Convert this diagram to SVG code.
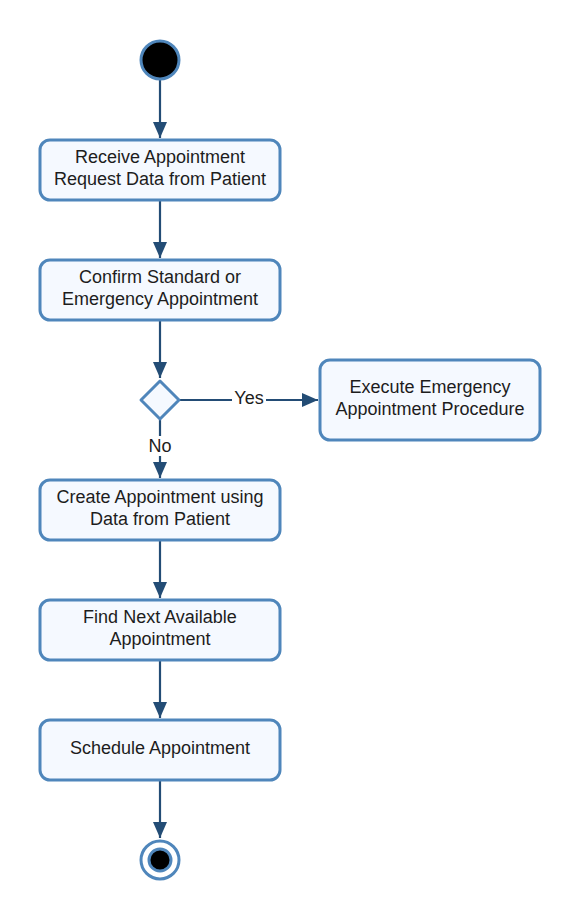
<svg xmlns="http://www.w3.org/2000/svg" width="580" height="920" viewBox="0 0 580 920">
<defs>
<style>
.node{fill:#f5f9ff;stroke:#4f86bb;stroke-width:3}
.t{font-family:"Liberation Sans",Arial,sans-serif;font-size:18px;fill:#1d1d1d;text-anchor:middle}
.c{fill:none;stroke:#234c75;stroke-width:2.2}
</style>
<marker id="ah" viewBox="0 0 16 14" refX="16" refY="7" markerWidth="16" markerHeight="14" markerUnits="userSpaceOnUse" orient="auto">
<path d="M0,0 L16,7 L0,14 Z" fill="#234c75"/>
</marker>
</defs>
<rect width="580" height="920" fill="#ffffff"/>
<g id="connectors">
<line class="c" x1="160" y1="80" x2="160" y2="138" marker-end="url(#ah)"/>
<line class="c" x1="160" y1="200" x2="160" y2="258" marker-end="url(#ah)"/>
<line class="c" x1="160" y1="320" x2="160" y2="378" marker-end="url(#ah)"/>
<line class="c" x1="180" y1="400" x2="318" y2="400" marker-end="url(#ah)"/>
<line class="c" x1="160" y1="420" x2="160" y2="478" marker-end="url(#ah)"/>
<line class="c" x1="160" y1="540" x2="160" y2="598" marker-end="url(#ah)"/>
<line class="c" x1="160" y1="660" x2="160" y2="718" marker-end="url(#ah)"/>
<line class="c" x1="160" y1="780" x2="160" y2="838" marker-end="url(#ah)"/>
<rect x="232" y="388" width="34" height="20" fill="#ffffff"/>
<text class="t" x="249" y="404">Yes</text>
<rect x="145" y="436" width="30" height="20" fill="#ffffff"/>
<text class="t" x="160" y="452">No</text>
</g>
<g id="start">
<circle cx="160" cy="60" r="19" fill="#000000" stroke="#4f86bb" stroke-width="3"/>
</g>
<g id="receive">
<rect class="node" x="40" y="140" width="240" height="60" rx="10"/>
<text class="t" x="160" y="163">Receive Appointment</text>
<text class="t" x="160" y="185">Request Data from Patient</text>
</g>
<g id="confirm">
<rect class="node" x="40" y="260" width="240" height="60" rx="10"/>
<text class="t" x="160" y="283">Confirm Standard or</text>
<text class="t" x="160" y="305">Emergency Appointment</text>
</g>
<g id="decision">
<path class="node" d="M160,381 L179,400 L160,419 L141,400 Z" stroke-linejoin="round"/>
</g>
<g id="emergency">
<rect class="node" x="320" y="360" width="220" height="80" rx="10"/>
<text class="t" x="430" y="393">Execute Emergency</text>
<text class="t" x="430" y="415">Appointment Procedure</text>
</g>
<g id="create">
<rect class="node" x="40" y="480" width="240" height="60" rx="10"/>
<text class="t" x="160" y="503">Create Appointment using</text>
<text class="t" x="160" y="525">Data from Patient</text>
</g>
<g id="find">
<rect class="node" x="40" y="600" width="240" height="60" rx="10"/>
<text class="t" x="160" y="623">Find Next Available</text>
<text class="t" x="160" y="645">Appointment</text>
</g>
<g id="schedule">
<rect class="node" x="40" y="720" width="240" height="60" rx="10"/>
<text class="t" x="160" y="754">Schedule Appointment</text>
</g>
<g id="end">
<circle cx="160" cy="860" r="19" fill="#ffffff" stroke="#4f86bb" stroke-width="3"/>
<circle cx="160" cy="860" r="11" fill="#000000" stroke="#4f86bb" stroke-width="3"/>
</g>
</svg>
